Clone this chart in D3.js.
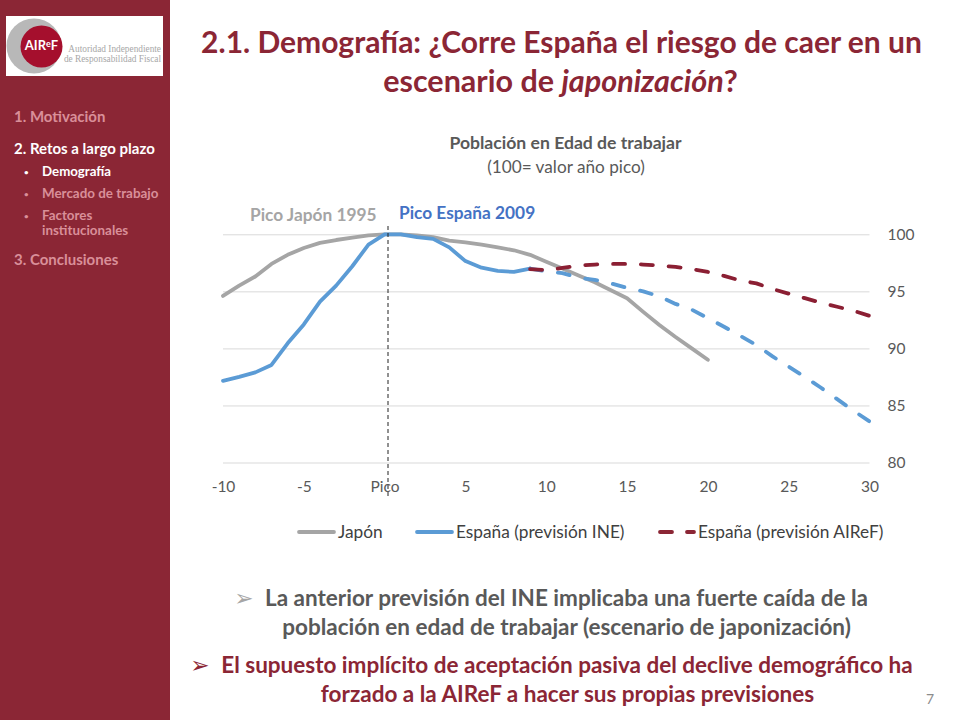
<!DOCTYPE html>
<html>
<head>
<meta charset="utf-8">
<script src="https://cdn.jsdelivr.net/npm/d3@7"></script>
<style>
  html, body { margin: 0; padding: 0; background: #fff; }
  svg { display: block; }
  text { font-family: Lato, "Open Sans", sans-serif; }
</style>
</head>
<body>
<div id="chart"></div>
<script>
const xTicks = [-10, -5, 0, 5, 10, 15, 20, 25, 30]
const yTicks = [80, 85, 90, 95, 100]

const japanYears = d3.range(-10, 21)
const japan = [94.6, 95.5, 96.3, 97.4, 98.2, 98.8, 99.25, 99.5, 99.7, 99.9, 100, 100, 99.9, 99.75, 99.45, 99.3, 99.1, 98.85, 98.6, 98.2, 97.6, 97.0, 96.4, 95.8, 95.1, 94.4, 93.2, 92.05, 91.0, 90.0, 89.0]

const spainYears = d3.range(-10, 10)
const spain = [87.15, 87.5, 87.9, 88.55, 90.45, 92.1, 94.1, 95.5, 97.2, 99.1, 100, 100, 99.76, 99.6, 98.85, 97.65, 97.07, 96.8, 96.7, 97.0]

const forecastYears = d3.range(9, 31)
const ine = [97.0, 96.75, 96.6, 96.2, 96.0, 95.7, 95.3, 95.0, 94.55, 93.9, 93.4, 92.65, 91.9, 91.1, 90.3, 89.3, 88.4, 87.5, 86.55, 85.55, 84.55, 83.6]
const airef = [96.95, 96.85, 97.05, 97.25, 97.35, 97.4, 97.4, 97.35, 97.25, 97.15, 96.95, 96.7, 96.35, 95.95, 95.7, 95.2, 94.8, 94.4, 94.0, 93.65, 93.3, 92.85]

const legendLabels = ['Japón', 'España (previsión INE)', 'España (previsión AIReF)']

const maroon = '#8b2635'
const gray = '#a5a5a5'
const blue = '#5b9bd5'
const red = '#8b1f33'
const pink = '#d98f99'

const svg = d3.select('#chart').append('svg')
  .attr('width', 960)
  .attr('height', 720)

// sidebar
svg.append('rect').attr('width', 170).attr('height', 720).attr('fill', maroon)

const logo = svg.append('g')
logo.append('rect').attr('x', 6).attr('y', 16).attr('width', 157).attr('height', 60).attr('fill', '#fff')
logo.append('circle').attr('cx', 34).attr('cy', 46).attr('r', 27.5).attr('fill', '#b8b8b8')
logo.append('circle').attr('cx', 41.5).attr('cy', 46.5).attr('r', 21).attr('fill', '#a50f2d')
const logoName = logo.append('text').attr('x', 41.5).attr('y', 50).attr('text-anchor', 'middle')
  .attr('font-size', 13).attr('font-weight', 700).attr('fill', '#fff')
logoName.append('tspan').text('AIR')
logoName.append('tspan').attr('font-size', 9).attr('dy', -3).text('e')
logoName.append('tspan').attr('dy', 3).text('F')
logo.selectAll('.sub').data(['Autoridad Independiente', 'de Responsabilidad Fiscal']).join('text')
  .attr('x', 161).attr('y', (d, i) => 52 + i * 10).attr('text-anchor', 'end')
  .attr('font-size', 9.3).attr('fill', '#a8a8a8')
  .style('font-family', '"Liberation Serif", serif')
  .text(d => d)

const menu = [
  { t: '1. Motivación', x: 14, y: 122, size: 15, c: pink },
  { t: '2. Retos a largo plazo', x: 14, y: 154, size: 15, c: '#fff' },
  { t: 'Demografía', x: 42, y: 176, size: 13.3, c: '#fff' },
  { t: 'Mercado de trabajo', x: 42, y: 198, size: 13.4, c: pink },
  { t: 'Factores', x: 42, y: 220, size: 13.4, c: pink },
  { t: 'institucionales', x: 42, y: 235, size: 13.4, c: pink },
  { t: '3. Conclusiones', x: 14, y: 265, size: 15, c: pink }
]
svg.append('g').selectAll('text').data(menu).join('text')
  .attr('x', d => d.x).attr('y', d => d.y)
  .attr('font-size', d => d.size).attr('font-weight', 700).attr('fill', d => d.c)
  .text(d => d.t)

svg.append('g').selectAll('text').data([
  { y: 175, c: '#fff' }, { y: 197, c: pink }, { y: 219, c: pink }
]).join('text')
  .attr('x', 24).attr('y', d => d.y).attr('font-size', 8).attr('font-weight', 700).attr('fill', d => d.c)
  .text('•')

// title
svg.append('text').attr('text-anchor', 'middle').attr('font-size', 30)
  .attr('font-weight', 700).attr('fill', maroon).attr('x', 561.5).attr('y', 53)
  .text('2.1. Demografía: ¿Corre España el riesgo de caer en un')
const title2 = svg.append('text').attr('text-anchor', 'middle').attr('font-size', 30.5)
  .attr('font-weight', 700).attr('fill', maroon).attr('x', 560.5).attr('y', 92)
title2.append('tspan').text('escenario de ')
title2.append('tspan').attr('font-style', 'italic').text('japonización')
title2.append('tspan').text('?')

// chart title
svg.append('text').attr('x', 565.5).attr('y', 149).attr('text-anchor', 'middle')
  .attr('font-size', 17.6).attr('font-weight', 700).attr('fill', '#595959').text('Población en Edad de trabajar')
svg.append('text').attr('x', 566).attr('y', 173).attr('text-anchor', 'middle')
  .attr('font-size', 17.2).attr('fill', '#595959').text('(100= valor año pico)')

// chart
const x = d3.scaleLinear().domain([-10, 30]).range([223, 869.5])
const y = d3.scaleLinear().domain([80, 100]).range([462.5, 234.3])

svg.append('g')
  .attr('transform', 'translate(869.5,0)')
  .call(d3.axisRight(y).tickValues(yTicks).tickSize(-646.5).tickPadding(18))
  .call(g => g.select('.domain').remove())
  .call(g => g.selectAll('line').attr('stroke', '#d9d9d9'))
  .call(g => g.selectAll('text').attr('font-size', 15.5).attr('fill', '#595959')
    .style('font-family', 'Lato, "Open Sans", sans-serif'))

svg.append('g')
  .attr('transform', 'translate(0,462.5)')
  .call(d3.axisBottom(x).tickValues(xTicks).tickSize(0).tickPadding(18)
    .tickFormat(d => d === 0 ? 'Pico' : d))
  .call(g => g.select('.domain').remove())
  .call(g => g.selectAll('text').attr('font-size', 15.5).attr('fill', '#595959')
    .style('font-family', 'Lato, "Open Sans", sans-serif'))

const line = d3.line().x(d => x(d[0])).y(d => y(d[1]))

const series = [
  { years: japanYears, vals: japan, color: gray, dash: null },
  { years: spainYears, vals: spain, color: blue, dash: null },
  { years: forecastYears, vals: ine, color: blue, dash: '12 16.1' },
  { years: forecastYears, vals: airef, color: red, dash: '12 15.8' }
]
svg.append('g').selectAll('path').data(series).join('path')
  .attr('d', d => line(d.years.map((yr, i) => [yr, d.vals[i]])))
  .attr('fill', 'none')
  .attr('stroke', d => d.color)
  .attr('stroke-width', 3.8)
  .attr('stroke-linejoin', 'round')
  .attr('stroke-linecap', 'round')
  .attr('stroke-dasharray', d => d.dash)

// peak marker
svg.append('line').attr('x1', 388).attr('x2', 388).attr('y1', 226).attr('y2', 498)
  .attr('stroke', '#222').attr('stroke-width', 1).attr('stroke-dasharray', '4 3')

svg.append('text').attr('x', 250).attr('y', 221).attr('font-size', 17.3).attr('font-weight', 700)
  .attr('fill', gray).text('Pico Japón 1995')
svg.append('text').attr('x', 399).attr('y', 219).attr('font-size', 17.3).attr('font-weight', 700)
  .attr('fill', '#4472c4').text('Pico España 2009')

// legend
const legendItems = [
  { x1: 299, x2: 334, tx: 338, color: gray, dash: null },
  { x1: 417, x2: 452, tx: 456, color: blue, dash: null },
  { x1: 660, x2: 694, tx: 698, color: maroon, dash: '12 15' }
]
const legend = svg.append('g')
legend.selectAll('line').data(legendItems).join('line')
  .attr('x1', d => d.x1).attr('x2', d => d.x2).attr('y1', 532).attr('y2', 532)
  .attr('stroke', d => d.color).attr('stroke-width', 3.8).attr('stroke-linecap', 'round')
  .attr('stroke-dasharray', d => d.dash)
legend.selectAll('text').data(legendItems).join('text')
  .attr('x', d => d.tx).attr('y', 538).attr('font-size', 17.3).attr('fill', '#404040')
  .text((d, i) => legendLabels[i])

// bottom text
const notes = [
  { t: 'La anterior previsión del INE implicaba una fuerte caída de la', x: 566.5, y: 606, c: '#595959' },
  { t: 'población en edad de trabajar (escenario de japonización)', x: 566.5, y: 635, c: '#595959' },
  { t: 'El supuesto implícito de aceptación pasiva del declive demográfico ha', x: 567, y: 673, c: maroon },
  { t: 'forzado a la AIReF a hacer sus propias previsiones', x: 567.5, y: 702, c: maroon }
]
svg.append('g').selectAll('text').data(notes).join('text')
  .attr('x', d => d.x).attr('y', d => d.y).attr('text-anchor', 'middle')
  .attr('font-size', 22.5).attr('font-weight', 700).attr('fill', d => d.c)
  .text(d => d.t)

svg.append('g').selectAll('text').data([
  { x: 244, y: 606, c: '#a6a6a6' }, { x: 200, y: 673, c: maroon }
]).join('text')
  .attr('x', d => d.x).attr('y', d => d.y).attr('text-anchor', 'middle')
  .attr('font-size', 23).attr('fill', d => d.c)
  .style('font-family', '"DejaVu Sans", sans-serif')
  .text('➢')

svg.append('text').attr('x', 930).attr('y', 704).attr('text-anchor', 'middle')
  .attr('font-size', 14).attr('fill', '#8c8c8c').text('7')
</script>
</body>
</html>
